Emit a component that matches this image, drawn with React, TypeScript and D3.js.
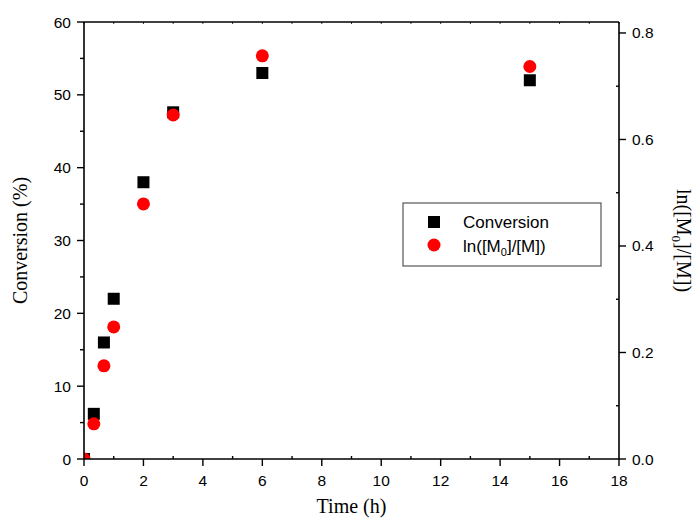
import React from "react";
import * as d3 from "d3";

const times = [0, 0.33, 0.67, 1, 2, 3, 6, 15];
const conversion = [0, 6.2, 16.0, 22.0, 38.0, 47.6, 53.0, 52.0];
const lnRatio = [0, 0.066, 0.175, 0.248, 0.479, 0.646, 0.757, 0.737];
const xTicks = [0, 2, 4, 6, 8, 10, 12, 14, 16, 18];
const yLeftTicks = [0, 10, 20, 30, 40, 50, 60];
const yRightTicks = [0, 0.2, 0.4, 0.6, 0.8];
const legendLabels = ["Conversion", "ln([M0]/[M])"];

const W = 694, H = 520;
const L = 84, R = 619, T = 22, B = 459;

export default function App() {
  const x = d3.scaleLinear().domain([0, 18]).range([L, R]);
  const yL = d3.scaleLinear().domain([0, 60]).range([B, T]);
  const yR = d3.scaleLinear().domain([0, 0.8206]).range([B, T]);
  const sans = "'Liberation Sans', Arial, sans-serif";
  const serif = "'Liberation Serif', 'Times New Roman', serif";
  const xMinor = d3.range(1, 18, 2);
  const xAll = d3.range(0, 19, 1);
  const yLMinor = d3.range(5, 60, 10);
  const yRMinor = [0.1, 0.3, 0.5, 0.7];
  const sq = 12;
  const rad = 6.5;
  return (
    <svg width={W} height={H} style={{ position: "absolute", left: 0, top: 0 }}>
      <defs>
        <clipPath id="plot">
          <rect x={L} y={T} width={R - L} height={B - T} />
        </clipPath>
      </defs>
      <rect x={0} y={0} width={W} height={H} fill="#fff" />
      <g clipPath="url(#plot)">
        {times.map((t, i) => (
          <rect key={"s" + i} x={x(t) - sq / 2} y={yL(conversion[i]) - sq / 2} width={sq} height={sq} fill="#000" />
        ))}
        {times.map((t, i) => (
          <circle key={"c" + i} cx={x(t)} cy={yR(lnRatio[i])} r={rad} fill="#ff0000" />
        ))}
      </g>
      {/* frame */}
      <g stroke="#000" strokeWidth={1.6} fill="none">
        <line x1={L} x2={R} y1={B} y2={B} />
        <line x1={L} x2={R} y1={T} y2={T} />
        <line x1={L} x2={L} y1={T} y2={B} />
        <line x1={R} x2={R} y1={T} y2={B} />
      </g>
      {/* ticks */}
      <g stroke="#000" strokeWidth={1.4}>
        {xTicks.map((t) => (
          <line key={"xb" + t} x1={x(t)} x2={x(t)} y1={B} y2={B + 7} />
        ))}
        {xMinor.map((t) => (
          <line key={"xm" + t} x1={x(t)} x2={x(t)} y1={B} y2={B - 3} />
        ))}
        {xAll.map((t) => (
          <line key={"xt" + t} x1={x(t)} x2={x(t)} y1={T} y2={T + 2} strokeWidth={0.8} />
        ))}
        {yLeftTicks.map((v) => (
          <line key={"yl" + v} x1={L - 7} x2={L} y1={yL(v)} y2={yL(v)} />
        ))}
        {yLMinor.map((v) => (
          <line key={"ylm" + v} x1={L - 4} x2={L} y1={yL(v)} y2={yL(v)} />
        ))}
        {yRightTicks.map((v) => (
          <line key={"yr" + v} x1={R} x2={R + 7} y1={yR(v)} y2={yR(v)} />
        ))}
        {yRMinor.map((v) => (
          <line key={"yrm" + v} x1={R - 3} x2={R} y1={yR(v)} y2={yR(v)} />
        ))}
      </g>
      {/* tick labels */}
      <g fontFamily={sans} fontSize={15.5} fill="#000">
        {xTicks.map((t) => (
          <text key={"xl" + t} x={x(t)} y={B + 27} textAnchor="middle">{t}</text>
        ))}
        {yLeftTicks.map((v) => (
          <text key={"yll" + v} x={L - 13} y={yL(v) + 5.5} textAnchor="end">{v}</text>
        ))}
        {yRightTicks.map((v) => (
          <text key={"yrl" + v} x={R + 13} y={yR(v) + 5.5} textAnchor="start">{d3.format(".1f")(v)}</text>
        ))}
      </g>
      {/* axis titles */}
      <text x={(L + R) / 2} y={513} textAnchor="middle" fontFamily={serif} fontSize={20}>Time (h)</text>
      <text transform={`translate(27,${(T + B) / 2}) rotate(-90)`} textAnchor="middle" fontFamily={serif} fontSize={20}>Conversion (%)</text>
      <text transform={`translate(677,${(T + B) / 2}) rotate(90)`} textAnchor="middle" fontFamily={serif} fontSize={20}>
        ln([M<tspan dy={5} fontSize={13}>0</tspan><tspan dy={-5}>]/[M])</tspan>
      </text>
      {/* legend */}
      <rect x={403} y={203} width={198} height={63} fill="#fff" stroke="#555" strokeWidth={1.2} />
      <rect x={434 - 6} y={222 - 6} width={12} height={12} fill="#000" />
      <circle cx={434} cy={245} r={6.5} fill="#ff0000" />
      <g fontFamily={sans} fontSize={17} fill="#000">
        <text x={463} y={228}>{legendLabels[0]}</text>
        <text x={463} y={252}>
          ln([M<tspan dy={4} fontSize={11}>0</tspan><tspan dy={-4}>]/[M])</tspan>
        </text>
      </g>
    </svg>
  );
}
